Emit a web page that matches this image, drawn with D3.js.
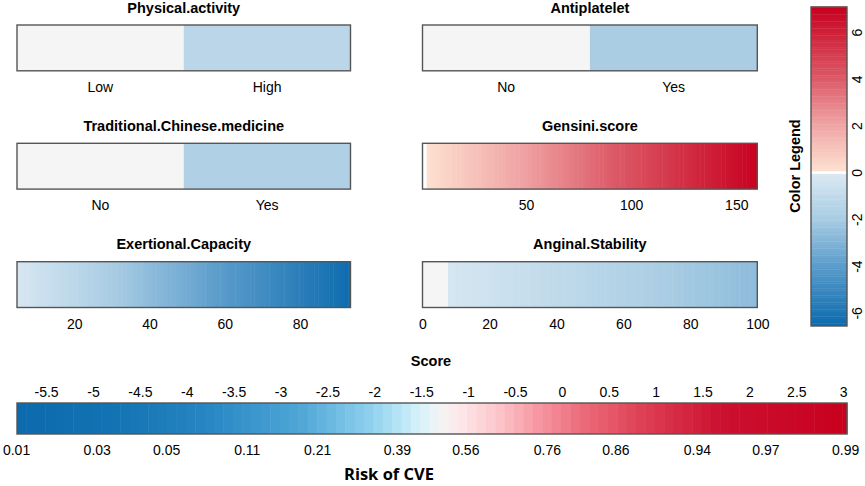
<!DOCTYPE html>
<html>
<head>
<meta charset="utf-8">
<script src="https://cdn.jsdelivr.net/npm/d3@7"></script>
<style>
  body { margin: 0; background: #fff; }
  text { font-family: "Liberation Sans", Arial, sans-serif; fill: #000; }
</style>
</head>
<body>
<svg id="chart" width="865" height="486"></svg>
<script>
// categorical predictors: levels and the score each level adds
var physLevels = ["Low", "High"];
var physScores = [0, -1.3];
var antiLevels = ["No", "Yes"];
var antiScores = [0, -1.9];
var tcmLevels = ["No", "Yes"];
var tcmScores = [0, -1.7];

// continuous predictors: value range, score at both ends, tick labels
var gensiniRange = [0.8, 160];
var gensiniScores = [0, 7.07];
var gensiniTicks = [50, 100, 150];
var exertRange = [4.8, 93.4];
var exertScores = [-0.2, -6.5];
var exertTicks = [20, 40, 60, 80];
var anginalRange = [0, 100];
var anginalRef = 7.6; // below this the reference level (grey)
var anginalScores = [-0.2, -2.7];
var anginalTicks = [0, 20, 40, 60, 80, 100];

// colour legend
var legendRange = [-6.56, 7.07];
var legendTicks = [-6, -4, -2, 0, 2, 4, 6];

// total score bar and risk of CVE
var scoreRange = [-5.81, 3.04];
var scoreTicks = [-5.5, -5, -4.5, -4, -3.5, -3, -2.5, -2, -1.5, -1, -0.5, 0, 0.5, 1, 1.5, 2, 2.5, 3];
var riskLabels = ["0.01", "0.03", "0.05", "0.11", "0.21", "0.39", "0.56", "0.76", "0.86", "0.94", "0.97", "0.99"];
var riskScores = [-5.82, -4.96, -4.22, -3.36, -2.61, -1.76, -1.03, -0.16, 0.57, 1.44, 2.17, 3.02];

var svg = d3.select("#chart");
var refGrey = "#f5f5f5";

var legendColor = d3.scaleLinear()
  .domain([-6.56, -4, -2, -0.06, 0, 0.06, 2, 4, 7.07])
  .range(["#0b6aad", "#5a9ccb", "#a8cce3", "#d9e8f2", "#ffffff", "#fde0d0", "#f0a5a5", "#dc5a68", "#c8001e"])
  .clamp(true);

var riskColor = d3.scaleLinear()
  .domain([-5.81, -4.8, -3.85, -2.8, -2.05, -1.72, -1.5, -1.3, -1.08, -0.66, -0.23, 0.2, 0.95, 1.7, 3.04])
  .range(["#0c6aad", "#1273b3", "#2584c1", "#4ea6d6", "#8fd0ee", "#b9e6f6", "#d8f2fa", "#f4f4f4",
          "#fde8ea", "#fcc3c8", "#f6949f", "#ec6d7c", "#dc3a50", "#cc1030", "#c8001e"])
  .clamp(true);

var cols = [[17, 350.5], [422.5, 757.3]];
var rows = [25, 143.3, 261.7];
var barH = 45.8;

function panelTitle(col, row, label) {
  svg.append("text")
    .attr("x", (cols[col][0] + cols[col][1]) / 2)
    .attr("y", rows[row] - 12.5)
    .attr("text-anchor", "middle")
    .style("font-weight", "bold")
    .style("font-size", "14.5px")
    .text(label);
}

function styleAxis(g, dy) {
  g.select(".domain").remove();
  g.selectAll("text")
    .attr("dy", null)
    .attr("y", dy)
    .style("font-family", "'Liberation Sans', Arial, sans-serif")
    .style("font-size", "14px")
    .attr("fill", "#000");
}

function outline(x0, x1, y0, h) {
  svg.append("rect")
    .attr("x", x0)
    .attr("y", y0)
    .attr("width", x1 - x0)
    .attr("height", h)
    .attr("fill", "none")
    .attr("stroke", "#555")
    .attr("stroke-width", 1.4);
}

function categoricalPanel(col, row, title, levels, scores) {
  var x = d3.scaleBand().domain(levels).range(cols[col]);
  var y0 = rows[row];
  panelTitle(col, row, title);
  svg.append("g").selectAll("rect")
    .data(levels)
    .enter()
    .append("rect")
    .attr("x", function (d) { return x(d); })
    .attr("y", y0)
    .attr("width", x.bandwidth())
    .attr("height", barH)
    .attr("fill", function (d, i) {
      return scores[i] === 0 ? refGrey : legendColor(scores[i]);
    });
  outline(cols[col][0], cols[col][1], y0, barH);
  var g = svg.append("g")
    .attr("transform", "translate(0," + (y0 + barH) + ")")
    .call(d3.axisBottom(x).tickSize(0));
  styleAxis(g, 21);
}

function continuousPanel(col, row, title, range, scores, ticks, step, refEnd) {
  var x = d3.scaleLinear().domain(range).range(cols[col]);
  var toScore = d3.scaleLinear().domain([refEnd == null ? range[0] : refEnd, range[1]]).range(scores);
  var y0 = rows[row];
  panelTitle(col, row, title);
  if (refEnd != null) {
    svg.append("rect")
      .attr("x", x(range[0]))
      .attr("y", y0)
      .attr("width", x(refEnd) - x(range[0]))
      .attr("height", barH)
      .attr("fill", refGrey);
  }
  var start = refEnd == null ? range[0] : refEnd;
  var vals = d3.range(start, range[1], step);
  svg.append("g").selectAll("rect")
    .data(vals)
    .enter()
    .append("rect")
    .attr("x", function (d) { return x(d); })
    .attr("y", y0)
    .attr("width", function (d) { return x(Math.min(d + step, range[1])) - x(d) + 0.5; })
    .attr("height", barH)
    .attr("fill", function (d) { return legendColor(toScore(d)); });
  outline(cols[col][0], cols[col][1], y0, barH);
  var g = svg.append("g")
    .attr("transform", "translate(0," + (y0 + barH) + ")")
    .call(d3.axisBottom(x).tickValues(ticks).tickSize(0).tickFormat(function (d) { return String(d); }));
  styleAxis(g, 21);
}

categoricalPanel(0, 0, "Physical.activity", physLevels, physScores);
categoricalPanel(1, 0, "Antiplatelet", antiLevels, antiScores);
categoricalPanel(0, 1, "Traditional.Chinese.medicine", tcmLevels, tcmScores);
continuousPanel(1, 1, "Gensini.score", gensiniRange, gensiniScores, gensiniTicks, 2, null);
continuousPanel(0, 2, "Exertional.Capacity", exertRange, exertScores, exertTicks, 1, null);
continuousPanel(1, 2, "Anginal.Stability", anginalRange, anginalScores, anginalTicks, 1, anginalRef);

// colour legend on the right
var ly = d3.scaleLinear().domain(legendRange).range([326, 7]);
var lx0 = 811, lx1 = 847;
var lvals = d3.range(legendRange[0], legendRange[1], 0.1);
svg.append("g").selectAll("rect")
  .data(lvals)
  .enter()
  .append("rect")
  .attr("x", lx0)
  .attr("y", function (d) { return ly(Math.min(d + 0.1, legendRange[1])) - 0.4; })
  .attr("width", lx1 - lx0)
  .attr("height", function (d) { return ly(d) - ly(Math.min(d + 0.1, legendRange[1])) + 0.4; })
  .attr("fill", function (d) { return legendColor(d + 0.05); });
svg.append("rect")
  .attr("x", lx0).attr("y", ly(0.04))
  .attr("width", lx1 - lx0).attr("height", ly(-0.04) - ly(0.04))
  .attr("fill", "#fff");
outline(lx0, lx1, 7, 319);
var lg = svg.append("g")
  .attr("transform", "translate(" + lx1 + ",0)")
  .call(d3.axisRight(ly).tickValues(legendTicks).tickSize(0).tickFormat(function (d) { return String(d); }));
lg.select(".domain").remove();
lg.selectAll("text")
  .attr("x", null)
  .attr("dy", null)
  .attr("transform", "translate(15,0) rotate(-90)")
  .attr("text-anchor", "middle")
  .style("font-family", "'Liberation Sans', Arial, sans-serif")
  .style("font-size", "14px")
  .attr("fill", "#000");
svg.append("text")
  .attr("transform", "translate(800,166) rotate(-90)")
  .attr("text-anchor", "middle")
  .style("font-weight", "bold")
  .style("font-size", "14.5px")
  .text("Color Legend");

// total score bar
var sx = d3.scaleLinear().domain(scoreRange).range([17, 847]);
var by0 = 403, bh = 31;
var svals = d3.range(scoreRange[0], scoreRange[1], 0.1);
svg.append("g").selectAll("rect")
  .data(svals)
  .enter()
  .append("rect")
  .attr("x", function (d) { return sx(d); })
  .attr("y", by0)
  .attr("width", function (d) { return sx(Math.min(d + 0.1, scoreRange[1])) - sx(d) + 0.5; })
  .attr("height", bh)
  .attr("fill", function (d) { return riskColor(d + 0.05); });
outline(17, 847, by0, bh);

var topAxis = svg.append("g")
  .attr("transform", "translate(0," + by0 + ")")
  .call(d3.axisTop(sx).tickValues(scoreTicks).tickSize(0).tickFormat(function (d) { return String(d); }));
styleAxis(topAxis, -6);

var botAxis = svg.append("g")
  .attr("transform", "translate(0," + (by0 + bh) + ")")
  .call(d3.axisBottom(sx).tickValues(riskScores).tickSize(0)
    .tickFormat(function (d, i) { return riskLabels[i]; }));
styleAxis(botAxis, 21);

svg.append("text")
  .attr("x", 431)
  .attr("y", 366)
  .attr("text-anchor", "middle")
  .style("font-weight", "bold")
  .style("font-size", "14.5px")
  .text("Score");

svg.append("text")
  .attr("x", 389)
  .attr("y", 480)
  .attr("text-anchor", "middle")
  .style("font-family", "'Open Sans', sans-serif")
  .style("font-weight", "bold")
  .style("font-size", "16.5px")
  .text("Risk of CVE");
</script>
</body>
</html>
